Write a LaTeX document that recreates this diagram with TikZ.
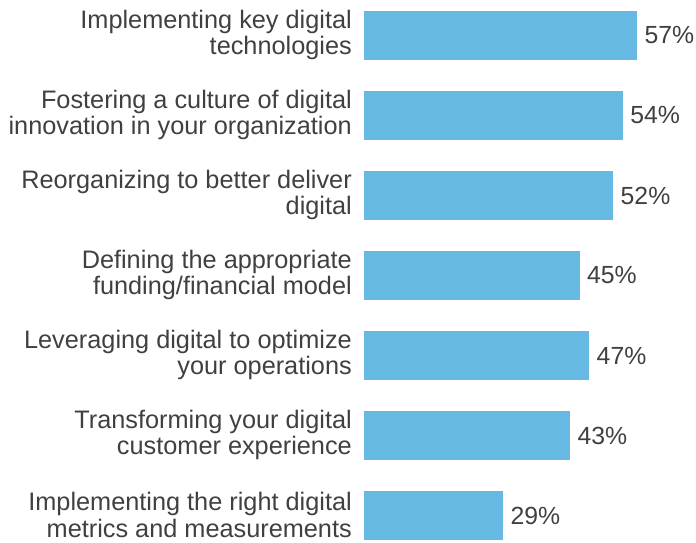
\documentclass[tikz,border=0pt]{standalone}
\usepackage{fontspec}
\setmainfont{Liberation Sans}
\usepackage{tikz}
\usetikzlibrary{positioning}
\definecolor{barblue}{RGB}{102,185,226}
\definecolor{txtgray}{RGB}{64,64,64}

\begin{document}
\begin{tikzpicture}[x=1pt, y=-1pt,
    bar/.style={fill=barblue, draw=none, anchor=west, minimum height=49pt, inner sep=0pt},
    lbl/.style={align=right, anchor=east, inner sep=0pt, text=txtgray,
                font=\fontsize{25.3}{26.5}\selectfont},
    pct/.style={anchor=west, inner sep=0pt, text=txtgray,
                font=\fontsize{24.8}{27}\selectfont}]
  \useasboundingbox (0,0) rectangle (696,542); % marco
  \foreach \i/\v/\t in {1/57/{Implementing key digital\\technologies},
                        2/54/{Fostering a culture of digital\\innovation in your organization},
                        3/52/{Reorganizing to better deliver\\digital},
                        4/45/{Defining the appropriate\\funding/financial model},
                        5/47/{Leveraging digital to optimize\\your operations},
                        6/43/{Transforming your digital\\customer experience},
                        7/29/{Implementing the right digital\\metrics and measurements}}{
    \node[bar, minimum width=4.79*\v pt] (bar\i) at (364, 35.5+80*\i-80) {}; % barra
    \node[lbl, left=12pt of bar\i.west, yshift=0.5pt] (lbl\i) {\t};
    \node[pct, right=7pt of bar\i.east] (pct\i) {\v\%};
  }
\end{tikzpicture}
\end{document}
